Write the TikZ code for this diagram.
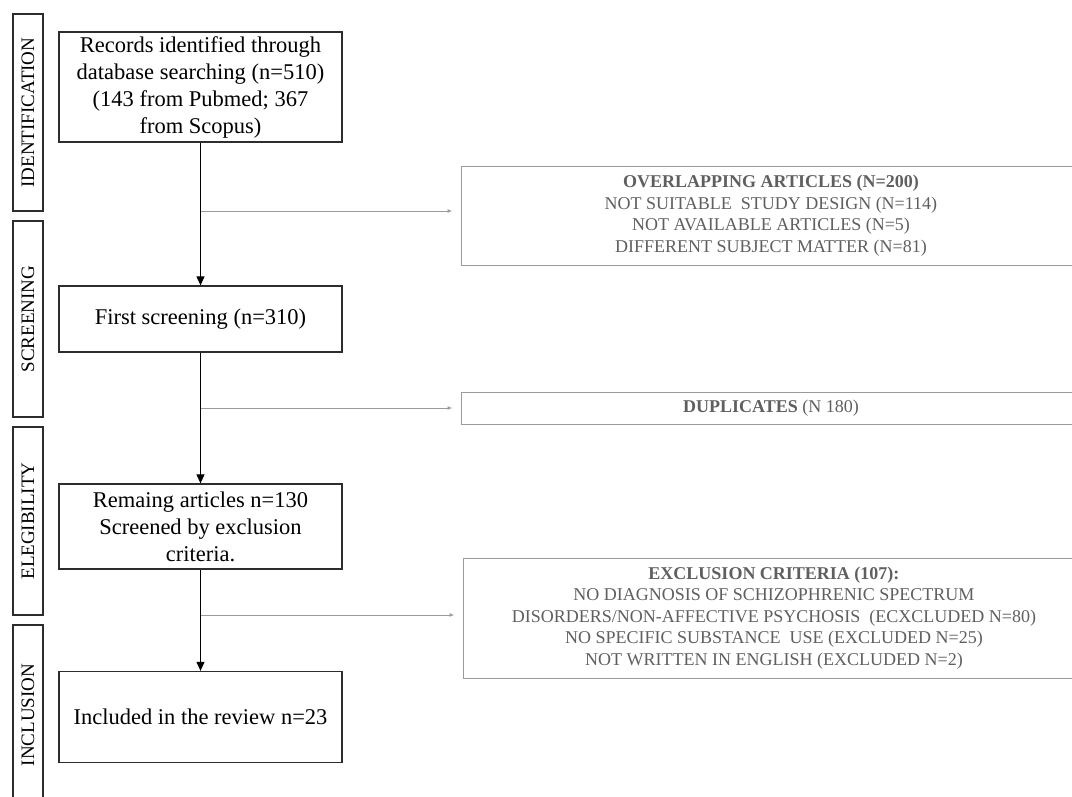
\documentclass[tikz,border=0pt]{standalone}
\usepackage{fontspec}
\setmainfont{Liberation Serif}
\usetikzlibrary{arrows.meta}
\definecolor{txtgray}{RGB}{95,95,95}
\definecolor{linegray}{RGB}{155,155,155}
\definecolor{boxdark}{RGB}{45,45,45}
\begin{document}
\begin{tikzpicture}[x=1pt,y=-1pt,
  mainbox/.style={draw=boxdark, line width=1.3pt, align=center, inner sep=0pt,
    minimum width=283pt, font=\fontsize{22.5}{27}\selectfont},
  sidebox/.style={draw=boxdark, line width=1.3pt, rotate=90, inner sep=0pt,
    minimum height=30pt, font=\fontsize{19}{22}\selectfont},
  sidenote/.style={draw=linegray, line width=1pt, align=center, inner sep=0pt,
    text=txtgray, font=\fontsize{18}{21.5}\selectfont},
  flow/.style={draw=black, line width=1.1pt, -{Triangle[length=9pt,width=8pt]}},
  branch/.style={draw=linegray, line width=1pt, -{Latex[length=5pt,width=4pt]}, shorten >=8pt}]
\useasboundingbox (0,0) rectangle (1072,796);

% phase labels
\node[sidebox, minimum width=197pt] (s1) at (28,112.5) {IDENTIFICATION};
\node[sidebox, minimum width=196pt] (s2) at (28,319) {SCREENING};
\node[sidebox, minimum width=188pt] (s3) at (28,521) {ELEGIBILITY};
\node[sidebox, minimum width=180pt] (s4) at (28,715) {INCLUSION};

% main boxes
\node[mainbox, minimum height=110pt] (b1) at (200.5,87)
  {\raisebox{-2pt}{\parbox{280pt}{\centering Records identified through\\database searching (n=510)\\(143 from Pubmed; 367\\from Scopus)}}};
\node[mainbox, minimum height=66pt] (b2) at (200.5,319) {First screening (n=310)};
\node[mainbox, minimum height=85pt] (b3) at (200.5,526.5)
  {Remaing articles n=130\\Screened by exclusion\\criteria.};
\node[mainbox, minimum height=91pt] (b4) at (200.5,717) {Included in the review n=23};

% side notes
\node[sidenote, minimum width=620pt, minimum height=99pt] (rA) at (771,215.5)
  {\textbf{OVERLAPPING ARTICLES (N=200)}\\NOT SUITABLE\ \ STUDY DESIGN (N=114)\\NOT AVAILABLE ARTICLES (N=5)\\DIFFERENT SUBJECT MATTER (N=81)};
\node[sidenote, minimum width=620pt, minimum height=32pt] (rB) at (771,408)
  {\textbf{DUPLICATES} (N 180)};
\node[sidenote, minimum width=622pt, minimum height=120pt] (rC) at (774,618)
  {\textbf{EXCLUSION CRITERIA (107):}\\NO DIAGNOSIS OF SCHIZOPHRENIC SPECTRUM\\DISORDERS/NON-AFFECTIVE PSYCHOSIS\ \ (ECXCLUDED N=80)\\NO SPECIFIC SUBSTANCE\ \ USE (EXCLUDED N=25)\\NOT WRITTEN IN ENGLISH (EXCLUDED N=2)};

% junctions
\coordinate (j1) at (200.5,211);
\coordinate (j2) at (200.5,408);
\coordinate (j3) at (200.5,615);

% connectors
\draw[branch] (j1) -- (j1 -| rA.west);
\draw[branch] (j2) -- (j2 -| rB.west);
\draw[branch] (j3) -- (j3 -| rC.west);
\draw[flow] (b1) -- (b2);
\draw[flow] (b2) -- (b3);
\draw[flow] (b3) -- (b4);
\end{tikzpicture}
\end{document}
